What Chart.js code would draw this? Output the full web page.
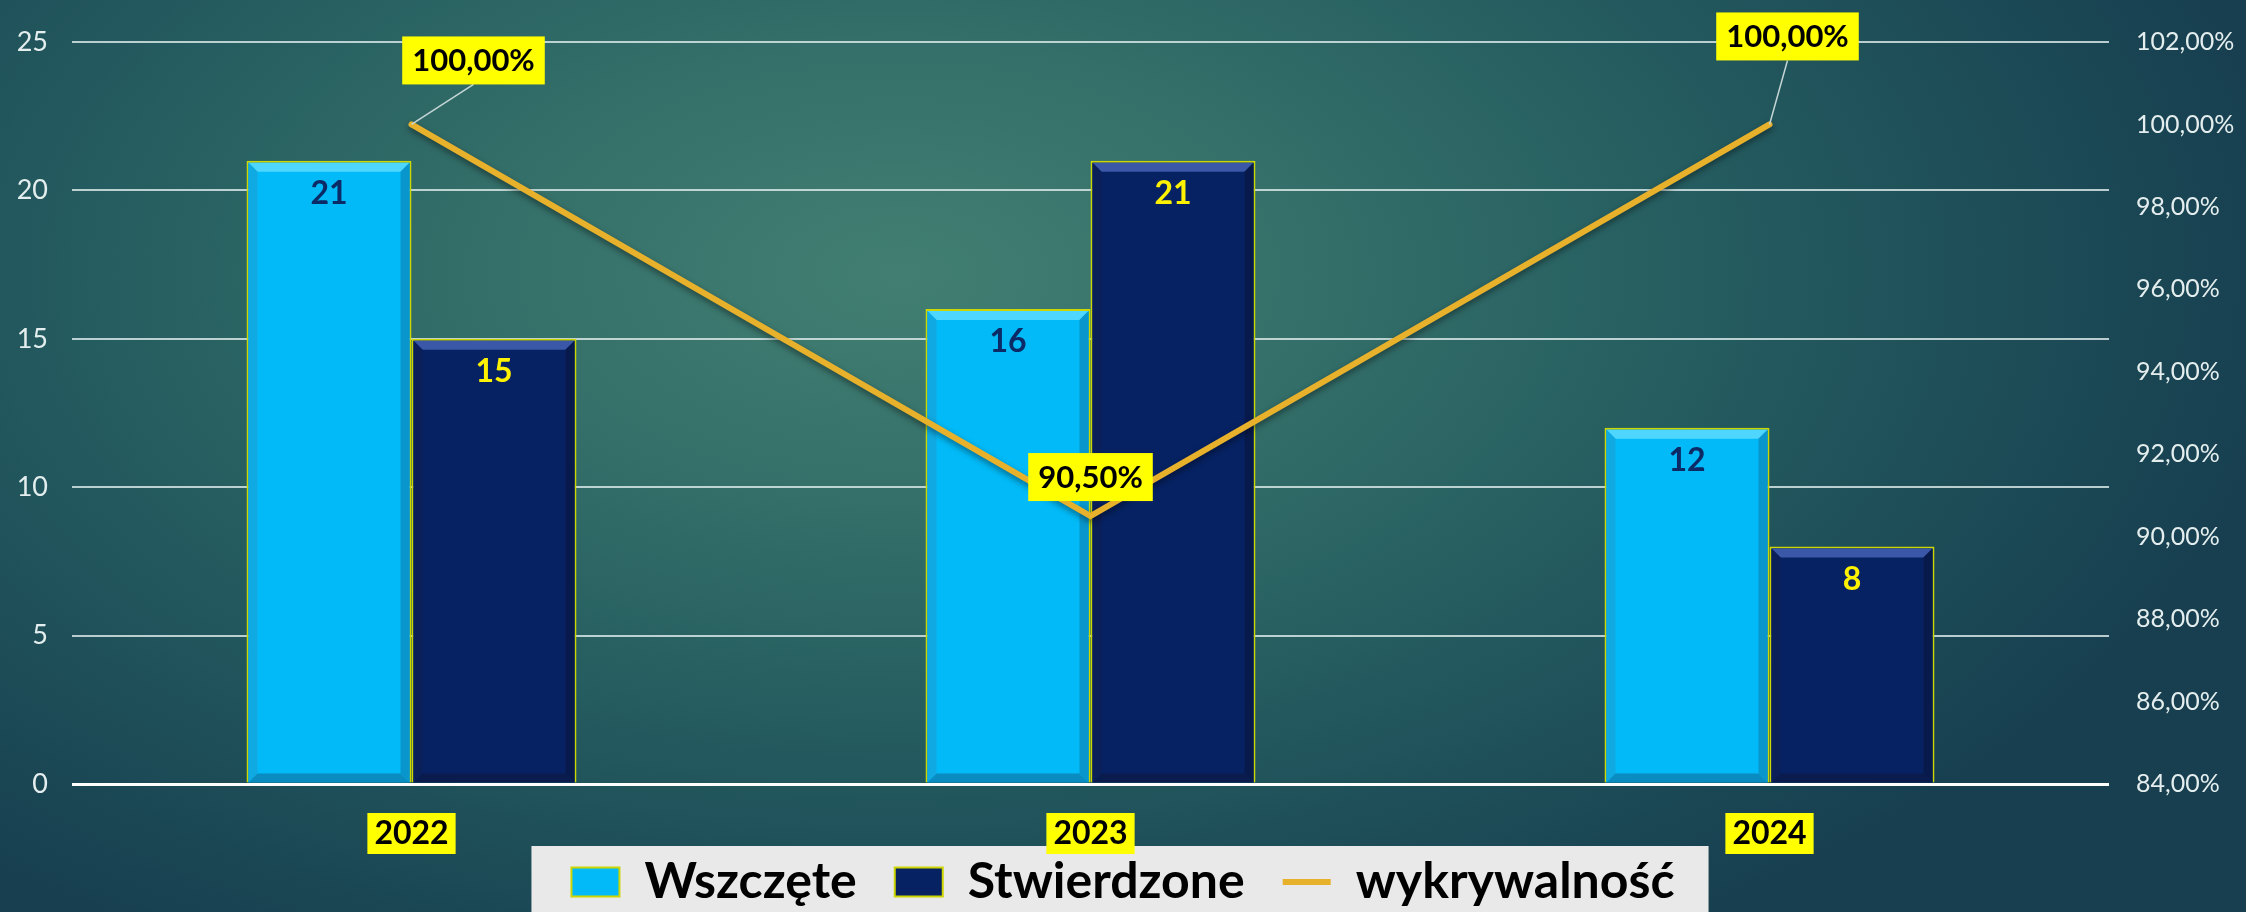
<!DOCTYPE html>
<html>
<head>
<meta charset="utf-8">
<script src="https://cdn.jsdelivr.net/npm/chart.js@4.4.1/dist/chart.umd.min.js"></script>
<style>
html,body{margin:0;padding:0;}
body{width:2246px;height:912px;overflow:hidden;
  background:radial-gradient(ellipse 62% 85% at 40% 30%, #427f72 0%, #346f69 30%, #245b5f 60%, #173f50 100%);}
#wrap{position:relative;width:2246px;height:912px;}
</style>
</head>
<body>
<div id="wrap"><canvas id="myChart" width="2246" height="912"></canvas></div>
<script>
// dane z wykresu
const years = ['2022', '2023', '2024'];
const wszczete = [21, 16, 12];
const stwierdzone = [15, 21, 8];
const wykrywalnosc = [100, 90.5, 100];
const countTicks = [0, 5, 10, 15, 20, 25];
const percentTicks = [84, 86, 88, 90, 92, 94, 96, 98, 100, 102];

const FONT = 'Lato, "DejaVu Sans", sans-serif';
const LEG_PAD = 38;

function pct(v) {
  return v.toFixed(2).replace('.', ',') + '%';
}

// legenda: przesuniecie w gore + szare tlo
const legendBox = {
  id: 'legendBox',
  afterLayout(chart) {
    const lg = chart.legend;
    if (!lg) return;
    lg.top -= LEG_PAD - 3;
  },
  beforeDraw(chart) {
    const lg = chart.legend;
    if (!lg || !lg.legendHitBoxes || !lg.legendHitBoxes.length) return;
    const hb = lg.legendHitBoxes;
    const l = Math.min(...hb.map(h => h.left)) - 40;
    const r = Math.max(...hb.map(h => h.left + h.width)) + 34;
    const t = lg.top + LEG_PAD + 25 - 36;
    const ctx = chart.ctx;
    ctx.save();
    ctx.fillStyle = '#e9e9e9';
    ctx.fillRect(l, t, r - l, chart.height - t);
    ctx.restore();
  }
};

// fazowanie slupkow + cien linii
const bevel = {
  id: 'bevel',
  beforeDatasetDraw(chart, args) {
    if (args.meta.type !== 'line') return;
    const ctx = chart.ctx;
    ctx.save();
    ctx.shadowColor = 'rgba(0,0,0,0.45)';
    ctx.shadowBlur = 6;
    ctx.shadowOffsetY = 3;
  },
  afterDatasetDraw(chart, args, opts) {
    const ctx = chart.ctx;
    if (args.meta.type === 'line') { ctx.restore(); return; }
    const c = opts.colors[args.index];
    if (!c) return;
    const b = 9;
    args.meta.data.forEach(el => {
      const p = el.getProps(['x', 'y', 'base', 'width'], true);
      const l = p.x - p.width / 2 + 2, r = p.x + p.width / 2 - 2;
      const t = p.y + 2, bot = p.base;
      const poly = (pts, col) => {
        ctx.beginPath();
        ctx.moveTo(pts[0][0], pts[0][1]);
        pts.slice(1).forEach(q => ctx.lineTo(q[0], q[1]));
        ctx.closePath();
        ctx.fillStyle = col;
        ctx.fill();
      };
      ctx.save();
      poly([[l, t], [r, t], [r - b, t + b], [l + b, t + b]], c.top);
      poly([[l, t], [l + b, t + b], [l + b, bot - b], [l, bot]], c.left);
      poly([[r, t], [r, bot], [r - b, bot - b], [r - b, t + b]], c.right);
      poly([[l, bot], [l + b, bot - b], [r - b, bot - b], [r, bot]], c.bottom);
      ctx.restore();
    });
  }
};

// etykiety wartosci
const valueLabels = {
  id: 'valueLabels',
  afterDatasetsDraw(chart, args, opts) {
    const ctx = chart.ctx;
    ctx.save();
    ctx.textAlign = 'center';
    ctx.textBaseline = 'middle';
    chart.data.datasets.forEach((ds, i) => {
      const meta = chart.getDatasetMeta(i);
      if (meta.type === 'bar') {
        ctx.font = 'bold 32px ' + FONT;
        ctx.fillStyle = opts.barColors[i];
        meta.data.forEach((el, j) => {
          ctx.fillText(ds.data[j], el.x, el.y + 33);
        });
      } else {
        ctx.font = 'bold 31px ' + FONT;
        meta.data.forEach((el, j) => {
          const off = opts.lineOffsets[j];
          const cx = el.x + off[0], cy = el.y + off[1];
          const txt = pct(ds.data[j]);
          const w = ctx.measureText(txt).width + 20, h = 48;
          if (off[2]) {
            ctx.strokeStyle = '#c4d6d6';
            ctx.lineWidth = 1.5;
            ctx.beginPath();
            ctx.moveTo(el.x, el.y);
            ctx.lineTo(cx, cy + h / 2);
            ctx.stroke();
          }
          ctx.fillStyle = '#ffff00';
          ctx.fillRect(cx - w / 2, cy - h / 2, w, h);
          ctx.fillStyle = '#000';
          ctx.fillText(txt, cx, cy + 1);
        });
      }
    });
    ctx.restore();
  }
};

const ctx = document.getElementById('myChart').getContext('2d');
const myChart = new Chart(ctx, {
  type: 'bar',
  data: {
    labels: years,
    datasets: [
      {
        label: 'Wszczęte',
        data: wszczete,
        backgroundColor: '#02baf7',
        borderColor: '#cdd600',
        borderWidth: 2,
        pointStyle: 'rect',
        categoryPercentage: 0.486,
        barPercentage: 1,
        yAxisID: 'y',
        order: 1
      },
      {
        label: 'Stwierdzone',
        data: stwierdzone,
        backgroundColor: '#062262',
        borderColor: '#cdd600',
        borderWidth: 2,
        pointStyle: 'rect',
        categoryPercentage: 0.486,
        barPercentage: 1,
        yAxisID: 'y',
        order: 1
      },
      {
        type: 'line',
        label: 'wykrywalność',
        data: wykrywalnosc,
        borderColor: '#e8b12c',
        backgroundColor: '#e8b12c',
        borderWidth: 6,
        borderCapStyle: 'round',
        pointRadius: 0,
        pointStyle: 'line',
        tension: 0,
        yAxisID: 'y1',
        order: 0
      }
    ]
  },
  options: {
    responsive: false,
    animation: false,
    layout: { padding: { top: 31, left: 0, right: 0, bottom: 0 } },
    plugins: {
      tooltip: { enabled: false },
      legend: {
        position: 'bottom',
        maxHeight: 58,
        labels: {
          usePointStyle: true,
          pointStyleWidth: 48,
          boxHeight: 29,
          color: '#000',
          padding: LEG_PAD,
          font: { family: FONT, weight: 'bold', size: 50 },
          sort: (a, b) => a.datasetIndex - b.datasetIndex
        }
      },
      bevel: {
        colors: [
          { top: '#4fd6ff', left: '#10a9e2', right: '#0996cc', bottom: '#0a8cc0' },
          { top: '#3a57a8', left: '#0b1f58', right: '#081a4c', bottom: '#0a1c4e' }
        ]
      },
      valueLabels: {
        barColors: ['#0b2a66', '#fff200'],
        lineOffsets: [[62, -64, true], [0, -39, false], [18, -88, true]]
      }
    },
    scales: {
      x: {
        afterFit: s => { s.height = 70; },
        grid: { display: false, drawTicks: false },
        border: { display: false },
        ticks: {
          color: '#000',
          padding: 34,
          font: { family: FONT, weight: 'bold', size: 32, lineHeight: 1.0 },
          showLabelBackdrop: true,
          backdropColor: '#ffff00',
          backdropPadding: { top: 5, bottom: 5, left: 7, right: 7 }
        }
      },
      y: {
        position: 'left',
        min: 0,
        max: 25,
        afterBuildTicks: s => { s.ticks = countTicks.map(v => ({ value: v })); },
        afterFit: s => { s.width = 72; },
        grid: {
          drawTicks: false,
          color: c => c.tick && c.tick.value === 0 ? '#ffffff' : 'rgba(225,238,238,0.8)',
          lineWidth: c => c.tick && c.tick.value === 0 ? 3 : 2
        },
        border: { display: false },
        ticks: {
          color: '#e4eeee',
          padding: 24,
          font: { family: FONT, size: 27 }
        }
      },
      y1: {
        position: 'right',
        min: 84,
        max: 102,
        afterBuildTicks: s => { s.ticks = percentTicks.map(v => ({ value: v })); },
        afterFit: s => { s.width = 137; },
        grid: { display: false, drawTicks: false },
        border: { display: false },
        ticks: {
          color: '#e4eeee',
          padding: 27,
          font: { family: FONT, size: 25 },
          callback: v => pct(v)
        }
      }
    }
  },
  plugins: [legendBox, bevel, valueLabels]
});
</script>
</body>
</html>
